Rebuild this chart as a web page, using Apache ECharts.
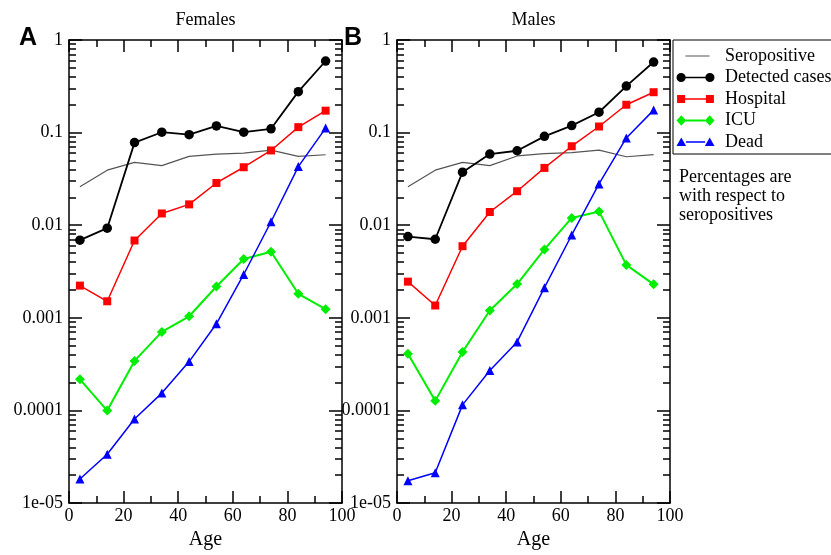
<!DOCTYPE html>
<html>
<head>
<meta charset="utf-8">
<script src="https://cdn.jsdelivr.net/npm/echarts@6/dist/echarts.min.js"></script>
<style>
html,body{margin:0;padding:0;background:#fff;}
#chart{width:831px;height:555px;}
</style>
</head>
<body>
<div id="chart"></div>
<script>
// ---- data ----
const ages = [4, 14, 24, 34, 44, 54, 64, 74, 84, 94];

const femSero      = [0.0261, 0.0393, 0.0478, 0.0440, 0.0554, 0.0586, 0.0600, 0.0647, 0.0554, 0.0577];
const femDetected  = [0.0069, 0.0093, 0.078, 0.101, 0.095, 0.118, 0.101, 0.110, 0.277, 0.593];
const femHospital  = [0.00223, 0.00151, 0.00684, 0.0134, 0.0168, 0.0286, 0.0423, 0.0642, 0.1146, 0.1725];
const femICU       = [0.000217, 0.0000998, 0.000343, 0.000705, 0.00104, 0.00218, 0.00432, 0.00517, 0.00182, 0.00124];
const femDead      = [0.0000182, 0.0000337, 0.0000808, 0.000154, 0.000337, 0.000863, 0.00294, 0.0109, 0.043, 0.112];

const maleSero     = [0.0261, 0.0393, 0.0478, 0.0440, 0.0560, 0.0593, 0.0608, 0.0647, 0.0549, 0.0580];
const maleDetected = [0.00754, 0.00706, 0.0374, 0.0586, 0.0637, 0.0911, 0.119, 0.166, 0.318, 0.578];
const maleHospital = [0.00246, 0.00136, 0.00594, 0.0139, 0.0233, 0.0416, 0.0713, 0.1164, 0.200, 0.273];
const maleICU      = [0.00041, 0.000127, 0.000428, 0.0012, 0.00232, 0.00548, 0.0120, 0.0141, 0.00373, 0.0023];
const maleDead     = [0.0000174, 0.0000213, 0.000115, 0.00027, 0.00055, 0.00212, 0.00785, 0.0279, 0.0875, 0.175];

const yTickLabels = ['1e-05', '0.0001', '0.001', '0.01', '0.1', '1'];
const xTickLabels = ['0', '20', '40', '60', '80', '100'];
const seriesNames = ['Seropositive', 'Detected cases', 'Hospital', 'ICU', 'Dead'];
const panelTitles = ['Females', 'Males'];
const panelLetters = ['A', 'B'];
const noteText = 'Percentages are\nwith respect to\nseropositives';

// ---- helpers ----
const SERIF = "'Liberation Serif', 'Times New Roman', 'DejaVu Serif', serif";
const minorVals = [];
for (let d = -5; d <= -1; d++) {
  for (let m = 2; m <= 9; m++) minorVals.push(+(m * Math.pow(10, d)).toPrecision(3));
}
const pair = arr => ages.map((a, i) => [a, arr[i]]);

// legend icons: line with a marker at each end (38 x 14 box)
const ANCH = 'M0,0L0.01,0L0,0.01Z M38,14L37.99,14L38,13.99Z ';
const iconLine = (y0, y1, x0, x1) => `M${x0},${y0}L${x1},${y0}L${x1},${y1}L${x0},${y1}Z `;
const circ = cx => `M${cx - 4.6},7A4.6,4.6 0 1 1 ${cx + 4.6},7A4.6,4.6 0 1 1 ${cx - 4.6},7Z `;
const sq = cx => `M${cx - 4},3L${cx + 4},3L${cx + 4},11L${cx - 4},11Z `;
const dia = cx => `M${cx},1.8L${cx + 4.8},7L${cx},12.2L${cx - 4.8},7Z `;
const tri = cx => `M${cx},2.4L${cx + 4.8},11L${cx - 4.8},11Z `;
const legendIcons = [
  'path://' + ANCH + iconLine(6.4, 7.6, 9, 33),
  'path://' + ANCH + circ(4.6) + circ(33.4) + iconLine(6.2, 7.8, 9, 29),
  'path://' + ANCH + sq(4.6) + sq(33.4) + iconLine(6.3, 7.7, 8.6, 29.4),
  'path://' + ANCH + dia(4.8) + dia(33.2) + iconLine(6.1, 7.9, 9.4, 28.6),
  'path://' + ANCH + tri(4.8) + tri(33.2) + iconLine(6.3, 7.7, 9.4, 28.6)
];

const grids = [
  {left: 69, top: 40, width: 273, height: 470},
  {left: 397, top: 40, width: 273, height: 470}
];

const xAxes = [], yAxes = [], series = [];
const axisLineStyle = {color: '#000', width: 1.5};

grids.forEach((g, gi) => {
  xAxes.push({
    type: 'value', gridIndex: gi, position: 'bottom', min: 0, max: 100, interval: 20,
    name: 'Age', nameLocation: 'middle', nameGap: 21,
    nameTextStyle: {fontFamily: SERIF, fontSize: 20, color: '#000'},
    axisLine: {show: true, lineStyle: axisLineStyle},
    axisTick: {show: true, inside: true, length: 12, lineStyle: {color: '#000', width: 1.5}},
    minorTick: {show: true, splitNumber: 2, length: 7, lineStyle: {color: '#000', width: 1.5}},
    axisLabel: {fontFamily: SERIF, fontSize: 18, color: '#000', margin: 4,
      formatter: v => xTickLabels[Math.round(v / 20)]},
    splitLine: {show: false}
  });
  xAxes.push({
    type: 'value', gridIndex: gi, position: 'top', min: 0, max: 100, interval: 20,
    axisLine: {show: true, lineStyle: axisLineStyle},
    axisTick: {show: true, inside: true, length: 12, lineStyle: {color: '#000', width: 1.5}},
    minorTick: {show: true, splitNumber: 2, length: 7, lineStyle: {color: '#000', width: 1.5}},
    axisLabel: {show: false}, splitLine: {show: false}
  });
  ['left', 'right'].forEach(pos => {
    yAxes.push({
      type: 'log', logBase: 10, gridIndex: gi, position: pos, min: 1e-5, max: 1, interval: 1,
      axisLine: {show: true, lineStyle: axisLineStyle},
      axisTick: {show: true, inside: true, length: 13, lineStyle: {color: '#000', width: 1.5}},
      axisLabel: {show: pos === 'left', fontFamily: SERIF, fontSize: 18, color: '#000', margin: 6,
        formatter: v => yTickLabels[Math.round(Math.log10(v)) + 5]},
      splitLine: {show: false}
    });
    yAxes.push({
      type: 'log', logBase: 10, gridIndex: gi, position: pos, min: 1e-5, max: 1,
      axisLine: {show: false},
      axisTick: {show: true, inside: true, length: 7, customValues: minorVals,
        lineStyle: {color: '#000', width: 1.5}},
      axisLabel: {show: false},
      splitLine: {show: false}
    });
  });
});

const panelData = [
  [femSero, femDetected, femHospital, femICU, femDead],
  [maleSero, maleDetected, maleHospital, maleICU, maleDead]
];
const styles = [
  {color: '#555555', symbol: 'none', size: 0, width: 1.2},
  {color: '#000000', symbol: 'circle', size: 9.5, width: 1.8},
  {color: '#ff0000', symbol: 'rect', size: 8, width: 1.5},
  {color: '#00ee00', symbol: 'diamond', size: 10, width: 2},
  {color: '#0000ff', symbol: 'triangle', size: 9, width: 1.5}
];

panelData.forEach((arrs, gi) => {
  arrs.forEach((arr, si) => {
    const st = styles[si];
    series.push({
      name: seriesNames[si], type: 'line', xAxisIndex: gi * 2, yAxisIndex: gi * 4,
      data: pair(arr), symbol: st.symbol, symbolSize: st.size, showSymbol: st.symbol !== 'none',
      lineStyle: {color: st.color, width: st.width}, itemStyle: {color: st.color},
      animation: false, z: 3
    });
  });
});

const graphic = [];
grids.forEach((g, gi) => {
  graphic.push({type: 'text', x: g.left + g.width / 2, y: 20,
    style: {text: panelTitles[gi], font: '18px ' + SERIF, fill: '#000', align: 'center', verticalAlign: 'middle'}});
});
graphic.push({type: 'text', x: 28, y: 38,
  style: {text: panelLetters[0], font: 'bold 25px "Liberation Sans", Arial, sans-serif', fill: '#000', align: 'center', verticalAlign: 'middle'}});
graphic.push({type: 'text', x: 353, y: 38,
  style: {text: panelLetters[1], font: 'bold 25px "Liberation Sans", Arial, sans-serif', fill: '#000', align: 'center', verticalAlign: 'middle'}});
graphic.push({type: 'text', x: 679, y: 168,
  style: {text: noteText, font: '18px ' + SERIF, fill: '#000', lineHeight: 19, align: 'left', verticalAlign: 'top'}});

const legendData = seriesNames.map((n, i) => ({name: n, icon: legendIcons[i]}));

const option = {
  animation: false,
  backgroundColor: '#fff',
  grid: grids,
  xAxis: xAxes,
  yAxis: yAxes,
  legend: {
    data: legendData, orient: 'vertical', left: 673, top: 40,
    padding: [7, 20, 3, 3.5], itemGap: 3.5, itemWidth: 38, itemHeight: 14,
    borderColor: '#000', borderWidth: 1, borderRadius: 0, backgroundColor: '#fff',
    selectedMode: false, symbolKeepAspect: true,
    itemStyle: {borderWidth: 0},
    textStyle: {fontFamily: SERIF, fontSize: 18, color: '#000', lineHeight: 14, padding: [0, 0, 0, 5.5]}
  },
  graphic: graphic,
  series: series
};

const chart = echarts.init(document.getElementById('chart'), null, {renderer: 'canvas'});
chart.setOption(option);
</script>
</body>
</html>
